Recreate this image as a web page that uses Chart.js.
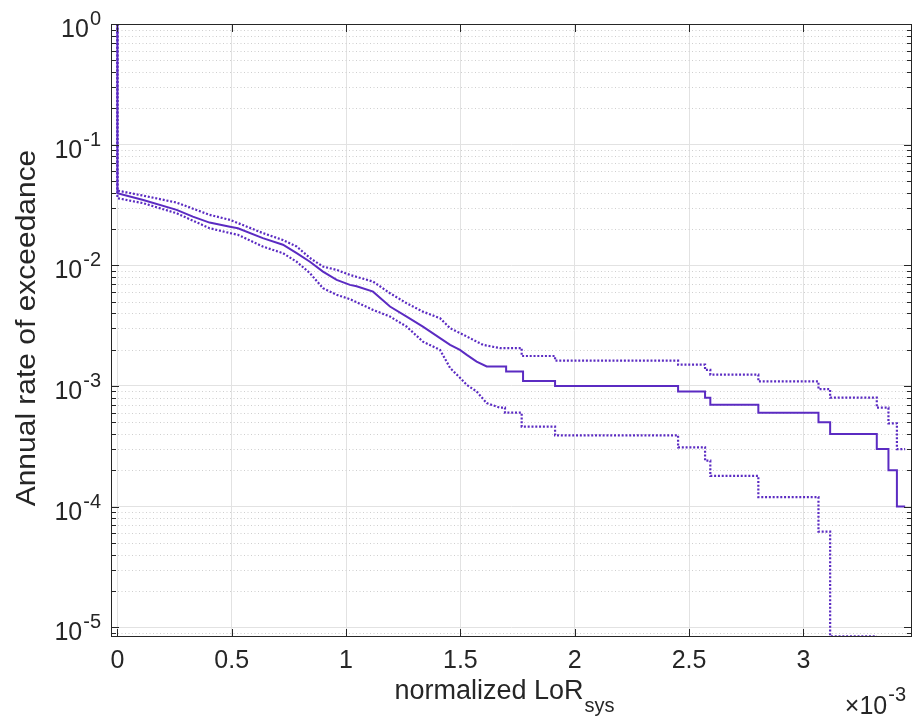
<!DOCTYPE html>
<html>
<head>
<meta charset="utf-8">
<script src="https://cdn.jsdelivr.net/npm/chart.js@4"></script>
<style>
  html, body { margin: 0; padding: 0; background: #fff; }
  canvas { display: block; }
</style>
</head>
<body>
<canvas id="lorChart" width="913" height="717"></canvas>
<script>
// x values are in units of 1e-3 (the axis carries the x10^-3 multiplier).
// Step corners are listed twice (same x, value before and after the drop).
const medianX = [0, 0, 0.113, 0.259, 0.330, 0.403, 0.492, 0.527, 0.636, 0.724, 0.784, 0.842, 0.899, 0.959, 1.017, 1.046, 1.118, 1.192, 1.265, 1.336, 1.411, 1.455, 1.498, 1.528, 1.571, 1.615, 1.700, 1.700, 1.774, 1.774, 1.914, 1.914, 2.452, 2.452, 2.570, 2.570, 2.593, 2.593, 2.803, 2.803, 3.066, 3.066, 3.117, 3.117, 3.321, 3.321, 3.372, 3.372, 3.409, 3.409, 3.445];
const medianRate = [1, 0.0396, 0.0348, 0.0288, 0.0253, 0.0226, 0.0209, 0.0203, 0.0168, 0.0148, 0.0126, 0.0107, 0.00887, 0.00757, 0.00688, 0.0067, 0.00605, 0.00455, 0.00376, 0.00310, 0.00249, 0.00219, 0.00199, 0.00181, 0.00159, 0.00145, 0.00145, 0.00132, 0.00132, 0.0011, 0.0011, 0.0010, 0.0010, 0.0009, 0.0009, 0.0008, 0.0008, 0.0007, 0.0007, 0.0006, 0.0006, 0.0005, 0.0005, 0.0004, 0.0004, 0.0003, 0.0003, 0.0002, 0.0002, 0.0001, 0.0001];

const upperX = [0, 0, 0.113, 0.259, 0.403, 0.492, 0.636, 0.724, 0.784, 0.842, 0.899, 0.959, 1.017, 1.118, 1.192, 1.265, 1.336, 1.411, 1.455, 1.528, 1.599, 1.673, 1.768, 1.768, 1.914, 1.914, 2.452, 2.452, 2.570, 2.570, 2.593, 2.593, 2.803, 2.803, 3.066, 3.066, 3.117, 3.117, 3.321, 3.321, 3.372, 3.372, 3.409, 3.409, 3.445];
const upperRate = [1, 0.0416, 0.0378, 0.0331, 0.0262, 0.0238, 0.0185, 0.0162, 0.0143, 0.0115, 0.00976, 0.00916, 0.00832, 0.00733, 0.00587, 0.00485, 0.00413, 0.00364, 0.00301, 0.00257, 0.00219, 0.00206, 0.00206, 0.00177, 0.00177, 0.00162, 0.00162, 0.00150, 0.00150, 0.00136, 0.00136, 0.00124, 0.00124, 0.00109, 0.00109, 0.00094, 0.00094, 0.00080, 0.00080, 0.00066, 0.00066, 0.00049, 0.00049, 0.00030, 0.00030];

const lowerX = [0, 0, 0.113, 0.259, 0.403, 0.492, 0.527, 0.636, 0.724, 0.784, 0.842, 0.899, 0.959, 1.017, 1.118, 1.192, 1.265, 1.336, 1.411, 1.455, 1.498, 1.528, 1.571, 1.615, 1.673, 1.695, 1.695, 1.768, 1.768, 1.914, 1.914, 2.452, 2.452, 2.570, 2.570, 2.593, 2.593, 2.803, 2.803, 3.066, 3.066, 3.117, 3.117, 3.321];
const lowerRate = [1, 0.0360, 0.0327, 0.0270, 0.0203, 0.0185, 0.0179, 0.0143, 0.0126, 0.0107, 0.00860, 0.00646, 0.00569, 0.00524, 0.00427, 0.00376, 0.00310, 0.00233, 0.00199, 0.00141, 0.00117, 0.00102, 0.00090, 0.00072, 0.00066, 0.00066, 0.00060, 0.00060, 0.00046, 0.00046, 0.00039, 0.00039, 0.00031, 0.00031, 0.00024, 0.00024, 0.00018, 0.00018, 0.00012, 0.00012, 0.000062, 0.000062, 0.0000084, 0.0000084];

const xTicks = [0, 0.5, 1, 1.5, 2, 2.5, 3];
const yDecades = [0, -1, -2, -3, -4, -5];

const X_MIN = -0.028, X_MAX = 3.475;
const Y_MIN = 8.3e-6, Y_MAX = 1;

const LINE_COLOR = '#5b2bc2';
const AXIS_COLOR = '#262626';
const FONT = "'Liberation Sans', Arial, sans-serif";

function toPoints(xs, ys) {
    return xs.map((x, i) => ({ x, y: ys[i] }));
}

function minorValues() {
    const vals = [];
    for (let d = -6; d < 0; d++) {
        for (let m = 2; m <= 9; m++) {
            const v = m * Math.pow(10, d);
            if (v > Y_MIN && v < Y_MAX) vals.push(v);
        }
    }
    return vals;
}

// MATLAB-like box, inner ticks, dotted minor grid and TeX-style labels
const matlabAxes = {
    id: 'matlabAxes',
    beforeDatasetsDraw(chart) {
        const { ctx, chartArea: a, scales: { y } } = chart;
        ctx.save();
        ctx.strokeStyle = '#cfcfcf';
        ctx.lineWidth = 1;
        ctx.setLineDash([1, 2.5]);
        minorValues().forEach(v => {
            const py = Math.round(y.getPixelForValue(v)) + 0.5;
            ctx.beginPath();
            ctx.moveTo(a.left, py);
            ctx.lineTo(a.right, py);
            ctx.stroke();
        });
        ctx.restore();
    },
    afterDraw(chart) {
        const { ctx, chartArea: a, scales: { x, y } } = chart;
        ctx.save();
        ctx.strokeStyle = AXIS_COLOR;
        ctx.lineWidth = 1;
        ctx.strokeRect(a.left + 0.5, a.top + 0.5, a.right - a.left - 1, a.bottom - a.top - 1);

        const hline = (x0, x1, py) => { ctx.beginPath(); ctx.moveTo(x0, py); ctx.lineTo(x1, py); ctx.stroke(); };
        const vline = (px, y0, y1) => { ctx.beginPath(); ctx.moveTo(px, y0); ctx.lineTo(px, y1); ctx.stroke(); };

        yDecades.forEach(e => {
            const py = Math.round(y.getPixelForValue(Math.pow(10, e))) + 0.5;
            hline(a.left, a.left + 8, py);
            hline(a.right - 8, a.right, py);
        });
        minorValues().forEach(v => {
            const py = Math.round(y.getPixelForValue(v)) + 0.5;
            hline(a.left, a.left + 5, py);
            hline(a.right - 5, a.right, py);
        });
        xTicks.forEach(v => {
            const px = Math.round(x.getPixelForValue(v)) + 0.5;
            vline(px, a.bottom, a.bottom - 8);
            vline(px, a.top, a.top + 8);
        });

        ctx.fillStyle = AXIS_COLOR;
        ctx.textBaseline = 'alphabetic';
        ctx.textAlign = 'left';

        // y tick labels 10^n
        yDecades.forEach(e => {
            const py = y.getPixelForValue(Math.pow(10, e));
            const exp = String(e);
            ctx.font = `20px ${FONT}`;
            const ew = ctx.measureText(exp).width;
            ctx.font = `25px ${FONT}`;
            const bw = ctx.measureText('10').width;
            const right = 101;
            ctx.fillText('10', right - ew - bw - 1, py + 13);
            ctx.font = `20px ${FONT}`;
            ctx.fillText(exp, right - ew, py + 1);
        });

        // x axis title with subscript
        ctx.font = `27px ${FONT}`;
        const main = 'normalized LoR';
        const mw = ctx.measureText(main).width;
        ctx.font = `20px ${FONT}`;
        const sw = ctx.measureText('sys').width;
        const start = 504 - (mw + sw) / 2;
        ctx.font = `27px ${FONT}`;
        ctx.fillText(main, start, 699);
        ctx.font = `20px ${FONT}`;
        ctx.fillText('sys', start + mw + 1, 712);

        // x10^-3 multiplier
        ctx.font = `20px ${FONT}`;
        const mew = ctx.measureText('-3').width;
        ctx.font = `25px ${FONT}`;
        const mbw = ctx.measureText('\u00d710').width;
        const mRight = 906;
        ctx.fillText('\u00d710', mRight - mew - mbw - 1, 714);
        ctx.font = `20px ${FONT}`;
        ctx.fillText('-3', mRight - mew, 701);

        // y axis title (stretched along its length like the reference)
        ctx.translate(28, 328);
        ctx.rotate(-Math.PI / 2);
        ctx.scale(1.11, 1);
        ctx.textAlign = 'center';
        ctx.textBaseline = 'middle';
        ctx.font = `27px ${FONT}`;
        ctx.fillText('Annual rate of exceedance', 0, 0);
        ctx.restore();
    }
};

const lineBase = {
    borderColor: LINE_COLOR,
    backgroundColor: LINE_COLOR,
    borderWidth: 2,
    pointRadius: 0,
    fill: false,
    tension: 0
};

const dotted = { borderWidth: 2.2, borderDash: [2, 1.8] };

new Chart(document.getElementById('lorChart').getContext('2d'), {
    type: 'line',
    data: {
        datasets: [
            { ...lineBase, ...dotted, label: 'upper', data: toPoints(upperX, upperRate) },
            { ...lineBase, ...dotted, label: 'lower', data: toPoints(lowerX, lowerRate) },
            { ...lineBase, label: 'median', data: toPoints(medianX, medianRate) }
        ]
    },
    options: {
        responsive: false,
        animation: false,
        devicePixelRatio: 1,
        layout: { padding: { top: 24, right: 1, left: 0, bottom: 0 } },
        plugins: { legend: { display: false }, tooltip: { enabled: false } },
        scales: {
            x: {
                type: 'linear',
                min: X_MIN,
                max: X_MAX,
                afterBuildTicks: s => { s.ticks = xTicks.map(v => ({ value: v })); },
                afterFit: s => { s.height = 80; },
                grid: { color: '#e2e2e2', lineWidth: 1, drawTicks: false },
                border: { display: false },
                ticks: { font: { family: FONT, size: 25 }, color: AXIS_COLOR, padding: 9, maxRotation: 0, autoSkip: false, callback: v => String(v) }
            },
            y: {
                type: 'logarithmic',
                min: Y_MIN,
                max: Y_MAX,
                afterBuildTicks: s => { s.ticks = yDecades.map(e => ({ value: Math.pow(10, e) })); },
                afterFit: s => { s.width = 111; },
                grid: { color: '#e2e2e2', lineWidth: 1, drawTicks: false },
                border: { display: false },
                ticks: { display: false }
            }
        }
    },
    plugins: [matlabAxes]
});
</script>
</body>
</html>
